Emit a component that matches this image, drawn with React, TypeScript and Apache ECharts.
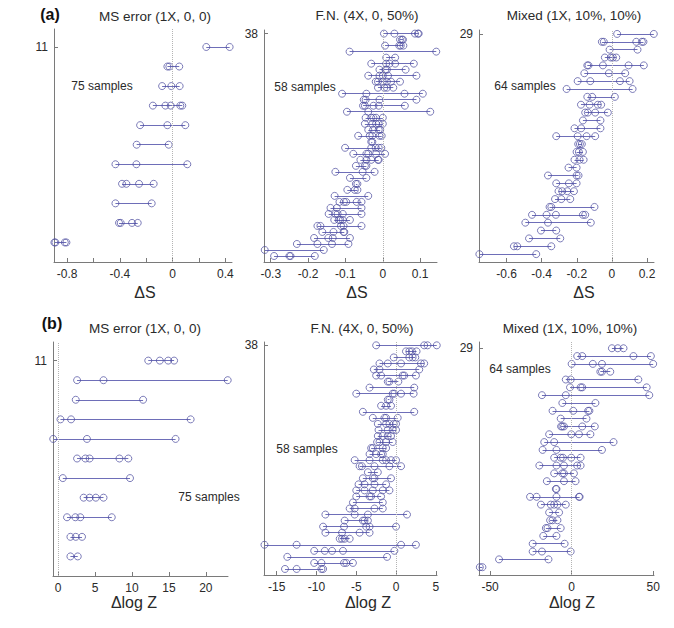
import React, { useEffect, useRef } from "react";
import * as echarts from "echarts";

// Each panel: one list per row (row 1 at the bottom), values along x.
const a1Rows: number[][] = [
  [-0.897, -0.889, -0.818, -0.806],
  [-0.407, -0.394, -0.308, -0.265],
  [-0.434, -0.159],
  [-0.384, -0.351, -0.255, -0.144],
  [-0.434, -0.275, 0.111],
  [-0.273, -0.03],
  [-0.247, -0.04, 0.096],
  [-0.15, -0.055, -0.015, 0.058, 0.073],
  [-0.08, -0.01, 0.053],
  [-0.04, -0.025, 0.05],
  [0.255, 0.432],
];

const a2Rows: number[][] = [
  [-0.291, -0.25, -0.247, -0.182],
  [-0.316, -0.158],
  [-0.23, -0.175, -0.136, -0.092],
  [-0.184, -0.146, -0.134, -0.088],
  [-0.162, -0.132, -0.105, -0.103],
  [-0.175, -0.167, -0.112, -0.105, -0.057],
  [-0.13, -0.118, -0.114, -0.107, -0.088],
  [-0.145, -0.127, -0.121, -0.107, -0.057],
  [-0.14, -0.123, -0.057],
  [-0.116, -0.104, -0.098, -0.07, -0.057],
  [-0.129, -0.039],
  [-0.095, -0.075, -0.068],
  [-0.072, -0.068],
  [-0.088, -0.044],
  [-0.127, -0.054, -0.022],
  [-0.072, -0.048, -0.044],
  [-0.06, -0.044, -0.031, -0.013, -0.011],
  [-0.079, -0.044, -0.039, -0.018, 0.006],
  [-0.101, -0.031, -0.019, -0.011, -0.004],
  [-0.031, -0.028],
  [-0.066, -0.035, -0.028, -0.009, -0.003],
  [-0.039, -0.026, -0.011, -0.007],
  [-0.048, -0.028, -0.018, -0.011, 0],
  [-0.046, -0.031, -0.025, -0.018, 0],
  [-0.096, -0.039, 0.127],
  [-0.053, -0.048, -0.025, -0.011, 0.059],
  [-0.051, -0.046, -0.009, 0.09],
  [-0.109, -0.044, 0.058, 0.107],
  [-0.013, 0.004, 0.011, 0.028],
  [-0.019, -0.013, 0, 0.011, 0.022, 0.046],
  [-0.039, -0.009, 0, 0.014, 0.09],
  [-0.009, 0.007, 0.011, 0.061],
  [-0.031, 0.009, 0.018, 0.033, 0.083],
  [0.009, 0.033],
  [-0.089, 0.143],
  [0.006, 0.044, 0.048, 0.055],
  [0.046, 0.051, 0.054],
  [0.003, 0.031, 0.086, 0.094, 0.096],
];

const a3Rows: number[][] = [
  [-0.755, -0.431],
  [-0.558, -0.539, -0.345],
  [-0.472, -0.294],
  [-0.404, -0.317],
  [-0.493, -0.364, -0.12],
  [-0.455, -0.372, -0.319, -0.165, -0.152],
  [-0.355, -0.345, -0.099],
  [-0.324, -0.288, -0.237],
  [-0.304, -0.283, -0.254, -0.216],
  [-0.317, -0.245, -0.201],
  [-0.364, -0.201, -0.19],
  [-0.247, -0.201],
  [-0.213, -0.184, -0.161],
  [-0.201, -0.188, -0.165],
  [-0.192, -0.182, -0.171],
  [-0.317, -0.195, -0.144, -0.095],
  [-0.213, -0.175, -0.065],
  [-0.165, -0.065],
  [-0.152, -0.137, -0.095, -0.023],
  [-0.176, -0.127, -0.08, -0.061],
  [-0.14, -0.112, 0.017],
  [-0.258, 0.118],
  [-0.195, -0.123, 0.046, 0.101],
  [-0.157, -0.017, 0.076],
  [-0.14, -0.133, -0.051, 0.095, 0.182],
  [-0.04, -0.006, 0.006, 0.025],
  [-0.013, 0.146],
  [-0.057, -0.046, 0.139, 0.171, 0.18],
  [0.03, 0.239],
];

const b1Rows: number[][] = [
  [1.66, 2.65],
  [1.66, 2.38, 3.23],
  [1.2, 2.33, 3.0, 7.26],
  [3.45, 4.26, 5.1, 6.14],
  [0.63, 9.73],
  [2.56, 3.68, 4.26, 8.3, 9.5],
  [-0.67, 3.9, 15.9],
  [0.31, 1.75, 17.94],
  [2.38, 11.5],
  [2.56, 6.14, 22.96],
  [12.2, 13.77, 14.9, 15.7],
];

const b2Rows: number[][] = [
  [-13.96, -12.5, -9.38, -9.17],
  [-10.29, -9.38, -6.54, -6.25, -5.42],
  [-13.67, -1.13],
  [-10.29, -8.96, -8.04, -6.67, -0.21],
  [-16.54, -12.5, 0.63, 2.5],
  [-7.08, -6.79, -6.46, -5.83],
  [-8.88, -6.79, -4.58, -3.33],
  [-9.17, -6.54, -3.75, -3.33, 0],
  [-6.46, -4.17, -3.96, -3.54],
  [-8.88, -5.2, -3.54, 1.38],
  [-5.83, -5.2, -2.71, -1.67],
  [-5.42, -1.67],
  [-5.0, -3.33, -3.13, -1.88],
  [-5.0, -3.96, -2.92, -1.67, -0.83],
  [-4.71, -3.96, -2.71, -1.25],
  [-4.17, -2.92, -2.71, -0.63],
  [-3.54, -2.29],
  [-4.58, -4.29, -2.71, -0.83, 0.63],
  [-5.2, -3.33, -1.67, -1.25, -0.63, 0],
  [-3.33, -2.5, -1.88, -1.67],
  [-3.13, -2.92, -1.67, -1.25],
  [-2.38, -2.08, -1.25, -0.42],
  [-2.29, -1.67, -1.04, -0.63],
  [-2.2, -1.04, -0.42, 0],
  [-2.29, -1.25, -0.83, -0.29, 0],
  [-2.92, -1.46, -1.25, 0.21],
  [-4.17, 2.29],
  [-1.88, -1.25, -0.63],
  [-1.04, -0.83],
  [-5.0, -0.42, -0.21, 0.63, 2.21],
  [-3.33, 2.29],
  [-1.04, -0.83, 0.29],
  [-2.5, -1.88, 0.83, 1.04, 2.5],
  [-2.79, -2.08, 2.92],
  [-2.08, -1.04, 0.63, 3.13, 3.54],
  [-0.29, 1.67, 2.08, 2.42],
  [1.25, 1.67, 2.0, 2.58],
  [-2.5, 3.54, 3.96, 5.12],
];

const b3Rows: number[][] = [
  [-56.3, -54.7],
  [-44.5, -14.2],
  [-23.9, -18.2, -0.6],
  [-23.9, -4.3],
  [-17.4, -9.3],
  [-15.8, -14.8, -6.7],
  [-13.2, -11.7, -8.7],
  [-13.8, -7.7],
  [-18.8, -12.8, -10.7, -8.7, -3.6],
  [-25.5, -21.5, -9.3, 4.5, 4.9],
  [-9.7, -9.3],
  [-15.2, -4.7, 2.4],
  [-10.7, -5.7, -4.7, 1.4],
  [-19.8, -9.3, -4.7, 3.4, 5.5],
  [-10.7, -6.7, -5.3, -0.2, 5.5],
  [-17.8, -9.3, 18.6],
  [-16.8, -10.7, 25.7],
  [-13.8, -0.2, 4.5, 11.5],
  [-6.5, -5.7, -4.7, 6.5, 14.2],
  [-6.7, 9.1],
  [-11.7, 1.0, 10.1, 10.9],
  [-5.7, 14.6],
  [-18.2, -3.6, 47.6],
  [-1, 5.5, 6.5, 46.0],
  [-3.6, -0.6, 40.9],
  [17.6, 18.6, 23.7],
  [0, 13.0, 18.6, 50.0],
  [3.4, 6.5, 37.9, 48.6],
  [24.7, 28.3, 31.8],
];

// Tick positions and tick labels for the x axes
const a1Ticks = [-0.8, -0.6, -0.4, -0.2, 0, 0.2, 0.4];
const a1Labels = [-0.8, -0.4, 0, 0.4];
const a2Ticks = [-0.3, -0.2, -0.1, 0, 0.1];
const a3Ticks = [-0.6, -0.4, -0.2, 0, 0.2];
const b1Ticks = [0, 5, 10, 15, 20];
const b2Ticks = [-15, -10, -5, 0, 5];
const b3Ticks = [-50, 0, 50];

const titles = [
  "MS error (1X, 0, 0)",
  "F.N. (4X, 0, 50%)",
  "Mixed (1X, 10%, 10%)",
];
const sampleLabels = ["75 samples", "58 samples", "64 samples"];

const FONT = '"Liberation Sans", Arial, Helvetica, sans-serif';
const AXIS_COLOR = "#7a7a7a";
const TEXT_COLOR = "#2a2a2a";
const CIRCLE_COLOR = "#4a4a9e";
const LINK_COLOR = "#6e6eb8";

interface Panel {
  rows: number[][];
  xMin: number;
  xMax: number;
  yMax: number;
  ticks: number[];
  labels: number[];
  left: number;
  top: number;
  right: number;
  bottom: number;
}

const panels: Panel[] = [
  { rows: a1Rows, xMin: -0.9, xMax: 0.45, yMax: 11.92, ticks: a1Ticks, labels: a1Labels, left: 54, top: 29, right: 232, bottom: 262 },
  { rows: a2Rows, xMin: -0.318, xMax: 0.145, yMax: 38.6, ticks: a2Ticks, labels: a2Ticks, left: 264, top: 30, right: 437, bottom: 262 },
  { rows: a3Rows, xMin: -0.757, xMax: 0.24, yMax: 29.5, ticks: a3Ticks, labels: a3Ticks, left: 479, top: 30, right: 654, bottom: 262 },
  { rows: b1Rows, xMin: -0.7, xMax: 23.0, yMax: 11.95, ticks: b1Ticks, labels: b1Ticks, left: 53, top: 342, right: 228, bottom: 576 },
  { rows: b2Rows, xMin: -16.6, xMax: 5.15, yMax: 38.55, ticks: b2Ticks, labels: b2Ticks, left: 264, top: 342, right: 437, bottom: 575 },
  { rows: b3Rows, xMin: -56.8, xMax: 50.5, yMax: 29.8, ticks: b3Ticks, labels: b3Ticks, left: 479, top: 342, right: 654, bottom: 575 },
];

const fmt = (v: number) => String(+Number(v).toFixed(3));

function buildOption() {
  const grid: any[] = [];
  const xAxis: any[] = [];
  const yAxis: any[] = [];
  const series: any[] = [];

  panels.forEach((p, i) => {
    const n = p.rows.length;
    grid.push({
      left: p.left,
      top: p.top,
      width: p.right - p.left,
      height: p.bottom - p.top,
      containLabel: false,
    });
    xAxis.push({
      type: "value",
      gridIndex: i,
      min: p.xMin,
      max: p.xMax,
      axisLine: { show: true, onZero: false, lineStyle: { color: AXIS_COLOR, width: 1 } },
      axisTick: { show: true, inside: true, length: 4, customValues: p.ticks, lineStyle: { color: AXIS_COLOR } },
      axisLabel: {
        show: true,
        customValues: p.labels,
        formatter: fmt,
        color: TEXT_COLOR,
        fontSize: 12,
        fontFamily: FONT,
        margin: 6,
      },
      splitLine: { show: false },
    });
    yAxis.push({
      type: "value",
      gridIndex: i,
      min: 0,
      max: p.yMax,
      axisLine: { show: true, onZero: false, lineStyle: { color: AXIS_COLOR, width: 1 } },
      axisTick: { show: true, inside: true, length: 4, customValues: [n], lineStyle: { color: AXIS_COLOR } },
      axisLabel: {
        show: true,
        customValues: [n],
        formatter: fmt,
        color: TEXT_COLOR,
        fontSize: 12,
        fontFamily: FONT,
        margin: 6,
      },
      splitLine: { show: false },
    });

    // connecting segment across each row
    series.push({
      type: "lines",
      coordinateSystem: "cartesian2d",
      xAxisIndex: i,
      yAxisIndex: i,
      silent: true,
      symbol: ["none", "none"],
      lineStyle: { color: LINK_COLOR, width: 1, opacity: 1 },
      data: p.rows.map((r, k) => ({
        coords: [
          [Math.min(...r), k + 1],
          [Math.max(...r), k + 1],
        ],
      })),
      z: 2,
    });

    // open circles, plus the dotted zero reference line
    series.push({
      type: "scatter",
      xAxisIndex: i,
      yAxisIndex: i,
      silent: true,
      symbol: "circle",
      symbolSize: 7,
      itemStyle: { color: "rgba(0,0,0,0)", borderColor: CIRCLE_COLOR, borderWidth: 0.9 },
      data: p.rows.flatMap((r, k) => r.map((v) => [v, k + 1])),
      markLine: {
        silent: true,
        symbol: ["none", "none"],
        label: { show: false },
        lineStyle: { type: "dotted", color: "#b4b4b4", width: 1 },
        data: [{ xAxis: 0 }],
      },
      z: 3,
    });
  });

  const txt = (text: string, x: number, y: number, size: number, bold = false, color = TEXT_COLOR) => ({
    type: "text",
    x,
    y,
    silent: true,
    style: {
      text,
      fill: color,
      font: `${bold ? "bold " : ""}${size}px ${FONT}`,
      align: "center",
      verticalAlign: "middle",
      textAlign: "center",
      textVerticalAlign: "middle",
    },
  });

  const graphic = [
    txt("(a)", 50, 14, 16, true, "#111"),
    txt("(b)", 52, 323, 16, true, "#111"),
    txt(titles[0], 155, 16, 13.5),
    txt(titles[1], 367, 15, 13.5),
    txt(titles[2], 574, 15, 13.5),
    txt(titles[0], 145, 328, 13.5),
    txt(titles[1], 362, 328, 13.5),
    txt(titles[2], 570, 328, 13.5),
    txt(sampleLabels[0], 102, 86, 12),
    txt(sampleLabels[1], 305, 87, 12),
    txt(sampleLabels[2], 525, 86, 12),
    txt(sampleLabels[0], 209, 497, 12),
    txt(sampleLabels[1], 307, 449, 12),
    txt(sampleLabels[2], 520, 369, 12),
    txt("ΔS", 145, 292, 16),
    txt("ΔS", 357, 292, 16),
    txt("ΔS", 584, 292, 16),
    txt("Δlog Z", 134, 602, 16),
    txt("Δlog Z", 368, 602, 16),
    txt("Δlog Z", 572, 602, 16),
  ];

  return {
    animation: false,
    backgroundColor: "#ffffff",
    grid,
    xAxis,
    yAxis,
    series,
    graphic,
  };
}

export default function App() {
  const ref = useRef<HTMLDivElement>(null);
  useEffect(() => {
    if (!ref.current) return;
    const chart = echarts.init(ref.current, undefined, { renderer: "svg" });
    chart.setOption(buildOption() as any);
    return () => chart.dispose();
  }, []);
  return (
    <div
      ref={ref}
      style={{ position: "fixed", left: 0, top: 0, width: 674, height: 628, background: "#fff" }}
    />
  );
}
